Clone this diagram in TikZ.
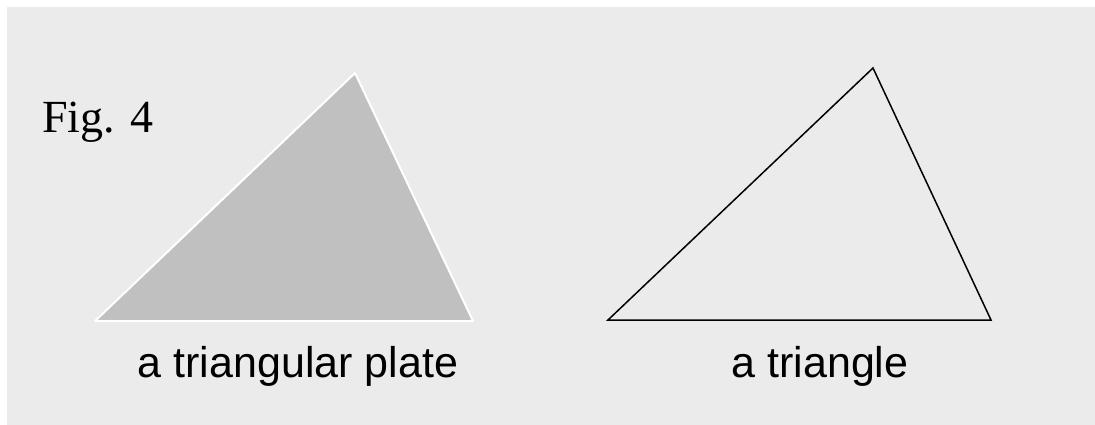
\documentclass[tikz,border=0pt]{standalone}
\usepackage{fontspec}
\setmainfont{Liberation Serif}
\newfontfamily\labelfont{Liberation Sans}
\definecolor{bg}{HTML}{EBEBEB}
\definecolor{plate}{HTML}{C0C0C0}
\begin{document}
\begin{tikzpicture}[x=1pt,y=-1pt,
  figlabel/.style={anchor=base west,inner sep=0pt,font=\fontsize{46}{50}\selectfont},
  caption/.style={anchor=base,inner sep=0pt,font=\labelfont\fontsize{43}{48}\selectfont},
  platestyle/.style={fill=plate,draw=white,line width=2pt,line join=round},
  tristyle/.style={draw=black,line width=1.5pt,line join=miter}]
\useasboundingbox (0,0) rectangle (1095,425);
\fill[bg] (7,7) rectangle (1095,425);
\node[figlabel] (fig) at (42,132) {Fig. 4};
\coordinate (p1) at (95,321);
\coordinate (p2) at (355,73);
\coordinate (p3) at (473,321);
\draw[platestyle] (p1) -- (p2) -- (p3) -- cycle;
\coordinate (t1) at (608,320);
\coordinate (t2) at (873,68);
\coordinate (t3) at (991,320);
\draw[tristyle] (t1) -- (t2) -- (t3) -- cycle;
\node[caption] (cap1) at (298,377) {a triangular plate};
\node[caption] (cap2) at (820,377) {a triangle};
\end{tikzpicture}
\end{document}
